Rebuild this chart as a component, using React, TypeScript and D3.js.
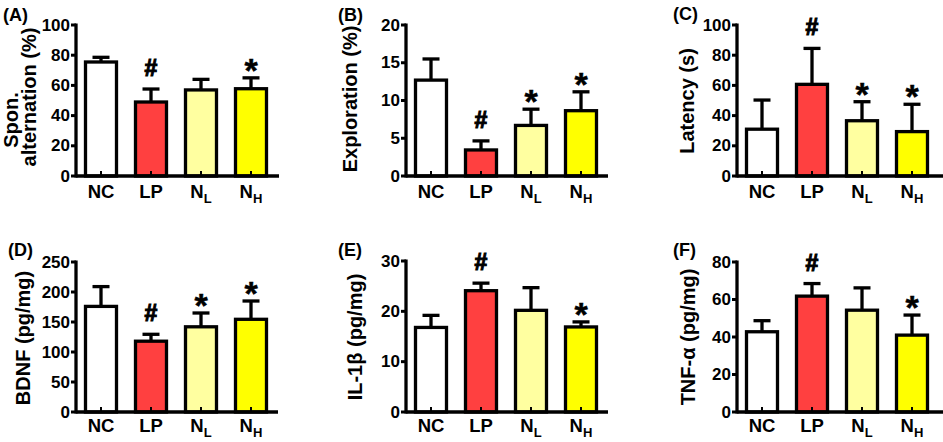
import React from "react";
import * as d3 from "d3";

const groups = ["NC", "LP", "NL", "NH"];
const groupMain = ["NC", "LP", "N", "N"];
const groupSub = ["", "", "L", "H"];
const barColors = ["#FFFFFF", "#FF4040", "#FFFFA0", "#FFFF00"];

const sponMean = [75.5, 49, 57, 57.8];
const sponErr = [3.1, 8.6, 7, 7.2];
const sponSig = ["", "#", "", "*"];

const exploMean = [12.7, 3.45, 6.7, 8.65];
const exploErr = [2.8, 1.2, 2.15, 2.5];
const exploSig = ["", "#", "*", "*"];

const latMean = [31, 60.7, 36.6, 29.4];
const latErr = [19.3, 23.8, 12.6, 18.1];
const latSig = ["", "#", "*", "*"];

const bdnfMean = [176, 118, 142, 154.5];
const bdnfErr = [33, 11.5, 23, 30.5];
const bdnfSig = ["", "#", "*", "*"];

const il1bMean = [16.8, 24.1, 20.2, 16.9];
const il1bErr = [2.4, 1.5, 4.5, 1.0];
const il1bSig = ["", "#", "", "*"];

const tnfMean = [42.8, 61.8, 54.3, 41];
const tnfErr = [5.9, 6.7, 11.9, 10.7];
const tnfSig = ["", "#", "", "*"];

const panelLetters = ["(A)", "(B)", "(C)", "(D)", "(E)", "(F)"];
const yTitles = [["Spon.", "alternation (%)"], ["Exploration (%)"], ["Latency (s)"], ["BDNF (pg/mg)"], ["IL-1β (pg/mg)"], ["TNF-α (pg/mg)"]];
const yMaxes = [100, 20, 100, 250, 30, 80];
const yTickSteps = [20, 5, 20, 50, 10, 20];

const FONT = "'Liberation Sans', Arial, Helvetica, sans-serif";

type Layout = {
  axisX: number; xEnd: number; yTop: number; yBot: number;
  titleX: number[]; titleY: number[]; letterX: number; letterY: number; xLabY: number;
};

const layouts: Layout[] = [
  { axisX: 76, xEnd: 279, yTop: 25, yBot: 176, titleX: [11, 29], titleY: [120, 97], letterX: 3, letterY: 21, xLabY: 198 },
  { axisX: 406, xEnd: 608, yTop: 25, yBot: 176, titleX: [350], titleY: [99], letterX: 338, letterY: 21, xLabY: 198 },
  { axisX: 737, xEnd: 943, yTop: 25, yBot: 176, titleX: [687], titleY: [101], letterX: 673, letterY: 20, xLabY: 198 },
  { axisX: 76, xEnd: 278, yTop: 262, yBot: 412, titleX: [23], titleY: [338], letterX: 8, letterY: 256, xLabY: 432 },
  { axisX: 406, xEnd: 608, yTop: 261, yBot: 412, titleX: [355], titleY: [337], letterX: 338, letterY: 256, xLabY: 432 },
  { axisX: 737, xEnd: 943, yTop: 262, yBot: 412, titleX: [688], titleY: [337], letterX: 673, letterY: 256, xLabY: 432 },
];

const means = [sponMean, exploMean, latMean, bdnfMean, il1bMean, tnfMean];
const errs = [sponErr, exploErr, latErr, bdnfErr, il1bErr, tnfErr];
const sigs = [sponSig, exploSig, latSig, bdnfSig, il1bSig, tnfSig];

function Panel({ idx }: { idx: number }) {
  const L = layouts[idx];
  const yMax = yMaxes[idx];
  const y = d3.scaleLinear().domain([0, yMax]).range([L.yBot, L.yTop]);
  const x = d3.scaleBand<string>().domain(groups).range([L.axisX, L.axisX + 200]).paddingInner(0.38).paddingOuter(0.19);
  const ticks = d3.range(0, yMax + 0.001, yTickSteps[idx]);
  const bw = x.bandwidth();
  const m = means[idx];
  const e = errs[idx];
  const s = sigs[idx];
  return (
    <g>
      <text x={L.letterX} y={L.letterY} fontSize={18} fontWeight="bold" fontFamily={FONT}>{panelLetters[idx]}</text>
      {yTitles[idx].map((t, i) => (
        <text key={i} transform={`translate(${L.titleX[i]},${L.titleY[i]}) rotate(-90)`} textAnchor="middle" dominantBaseline="central" fontSize={20} fontWeight="bold" fontFamily={FONT}>{t}</text>
      ))}
      {groups.map((g, i) => {
        const x0 = x(g)!;
        const cx = x0 + bw / 2;
        const top = y(m[i]);
        const et = y(m[i] + e[i]);
        return (
          <g key={g}>
            <line x1={cx} x2={cx} y1={top} y2={et} stroke="#000" strokeWidth={3.3} />
            <line x1={cx - 8.5} x2={cx + 8.5} y1={et} y2={et} stroke="#000" strokeWidth={3.3} />
            <rect x={x0} y={top} width={bw} height={L.yBot - top} fill={barColors[i]} stroke="#000" strokeWidth={3.3} />
            <line x1={cx} x2={cx} y1={L.yBot} y2={L.yBot - 5} stroke="#000" strokeWidth={2} />
            {s[i] === "#" && (
              <text x={cx} y={et - 13} textAnchor="middle" fontSize={23} fontWeight="bold" fontFamily={FONT} stroke="#000" strokeWidth={1.1}>#</text>
            )}
            {s[i] === "*" && (
              <text x={cx} y={et + 4} textAnchor="middle" fontSize={34} fontWeight="bold" fontFamily={FONT} stroke="#000" strokeWidth={0.5}>*</text>
            )}
            <text x={cx} y={L.xLabY} textAnchor="middle" fontSize={18.5} fontWeight="bold" fontFamily={FONT}>
              {groupMain[i]}
              {groupSub[i] && <tspan fontSize={13} dy={5}>{groupSub[i]}</tspan>}
            </text>
          </g>
        );
      })}
      <line x1={L.axisX} x2={L.xEnd} y1={L.yBot} y2={L.yBot} stroke="#000" strokeWidth={3.3} />
      <line x1={L.axisX} x2={L.axisX} y1={L.yTop - 1.5} y2={L.yBot + 1.5} stroke="#000" strokeWidth={3.3} />
      {ticks.map((t) => (
        <g key={t}>
          <line x1={L.axisX - 5} x2={L.axisX} y1={y(t)} y2={y(t)} stroke="#000" strokeWidth={3} />
          <text x={L.axisX - 6} y={y(t)} textAnchor="end" dominantBaseline="central" fontSize={17} fontWeight="bold" fontFamily={FONT}>{t}</text>
        </g>
      ))}
    </g>
  );
}

export default function App() {
  return (
    <svg width={943} height={442} style={{ position: "absolute", left: 0, top: 0, background: "#fff" }}>
      <rect width={943} height={442} fill="#fff" />
      {layouts.map((_, i) => <Panel key={i} idx={i} />)}
    </svg>
  );
}
